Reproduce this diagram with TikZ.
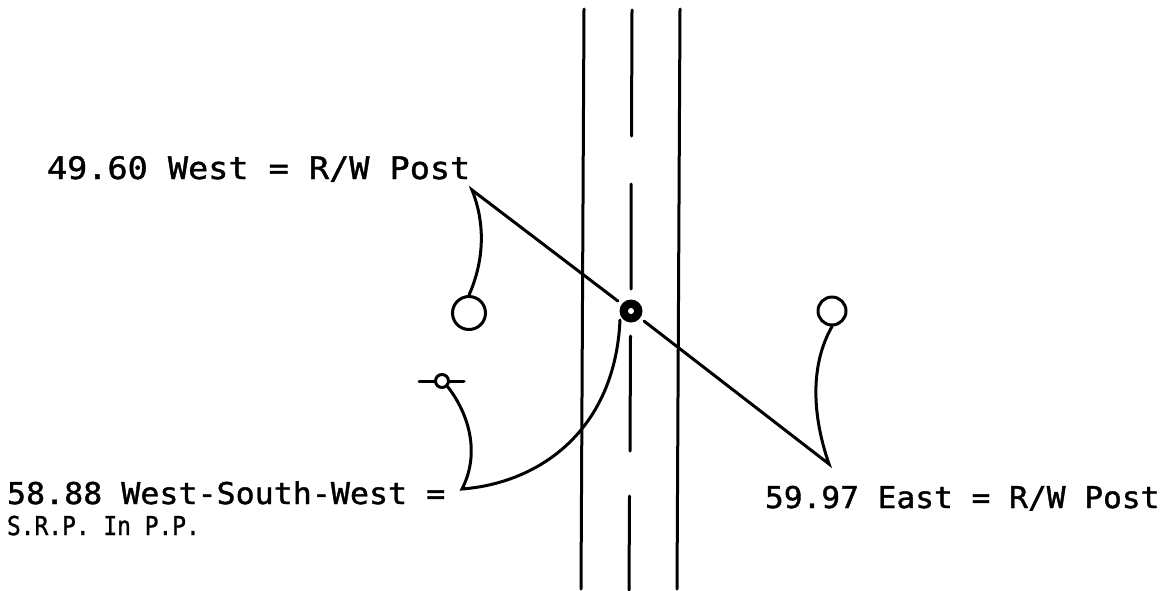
\documentclass[tikz,border=0pt]{standalone}
\usepackage{fontspec}
\usepackage{graphicx}
\setmainfont[FakeBold=1.2]{DejaVu Sans Mono}
\tikzset{
  stroke/.style={line width=3pt,line cap=round,black},
  leader/.style={line width=3pt,line cap=round,line join=miter,black},
  post/.style={circle,draw=black,line width=3pt,fill=white,inner sep=0pt},
  lbl/.style={anchor=base west,inner sep=0pt,outer sep=0pt,black}
}
\newcommand{\lab}[3]{\scalebox{#1}[1]{\fontsize{#2}{#2}\selectfont #3}}
\begin{document}
\begin{tikzpicture}[x=1pt,y=-1pt]
\useasboundingbox (0,0) rectangle (1169,590);
\fill[white] (0,0) rectangle (1169,590);
% road edges
\coordinate (lt) at (584,9); \coordinate (lb) at (581,589);
\coordinate (rt) at (680,9); \coordinate (rb) at (677,589);
\draw[stroke] (lt) -- (lb);
\draw[stroke] (rt) -- (rb);
% centre line
\coordinate (c1) at (632,10);  \coordinate (c2) at (631.5,136);
\coordinate (c3) at (631.2,184); \coordinate (c4) at (631,289);
\coordinate (c5) at (630.5,336); \coordinate (c6) at (630,451);
\coordinate (c7) at (629.5,496); \coordinate (c8) at (629,590);
\draw[stroke] (c1) -- (c2);
\draw[stroke] (c3) -- (c4);
\draw[stroke] (c5) -- (c6);
\draw[stroke] (c7) -- (c8);
% stations
\node[circle,fill=black,minimum size=23pt,inner sep=0pt,outer sep=5pt] (target) at (631,311) {};
\node[circle,fill=white,minimum size=6pt,inner sep=0pt] (hole) at (631,311) {};
\node[post,minimum size=33pt] (west) at (469,313) {};
\node[post,minimum size=28pt] (east) at (832,311) {};
\coordinate (tl) at (419,381); \coordinate (tr) at (464,381);
\draw[stroke] (tl) -- (tr);
\node[post,minimum size=13pt] (srp) at (442,381) {};
% tips
\coordinate (tipW) at (472,190);
\coordinate (tipE) at (829,464);
\coordinate (tipS) at (462,489);
\coordinate (srpEnd) at (620,320);
\draw[leader] (west.north) .. controls (478,275) and (490,235) .. (tipW) -- (target);
\draw[leader] (east.south) .. controls (810,365) and (812,415) .. (tipE) -- (target);
\draw[leader] (srp.south east) .. controls (466,410) and (482,450) .. (tipS)
   .. controls (540,483) and (615,430) .. (srpEnd);
% labels
\node[lbl] (a) at (47,179) {\lab{1.08}{31}{49.60 West = R/W Post}};
\node[lbl] (b) at (7,504) {\lab{1.055}{30}{58.88 West-South-West =}};
\node[lbl] (c) at (7,535) {\lab{0.88}{26}{S.R.P. In P.P.}};
\node[lbl] (d) at (765,508) {\lab{1.04}{30}{59.97 East = R/W Post}};
\end{tikzpicture}
\end{document}
